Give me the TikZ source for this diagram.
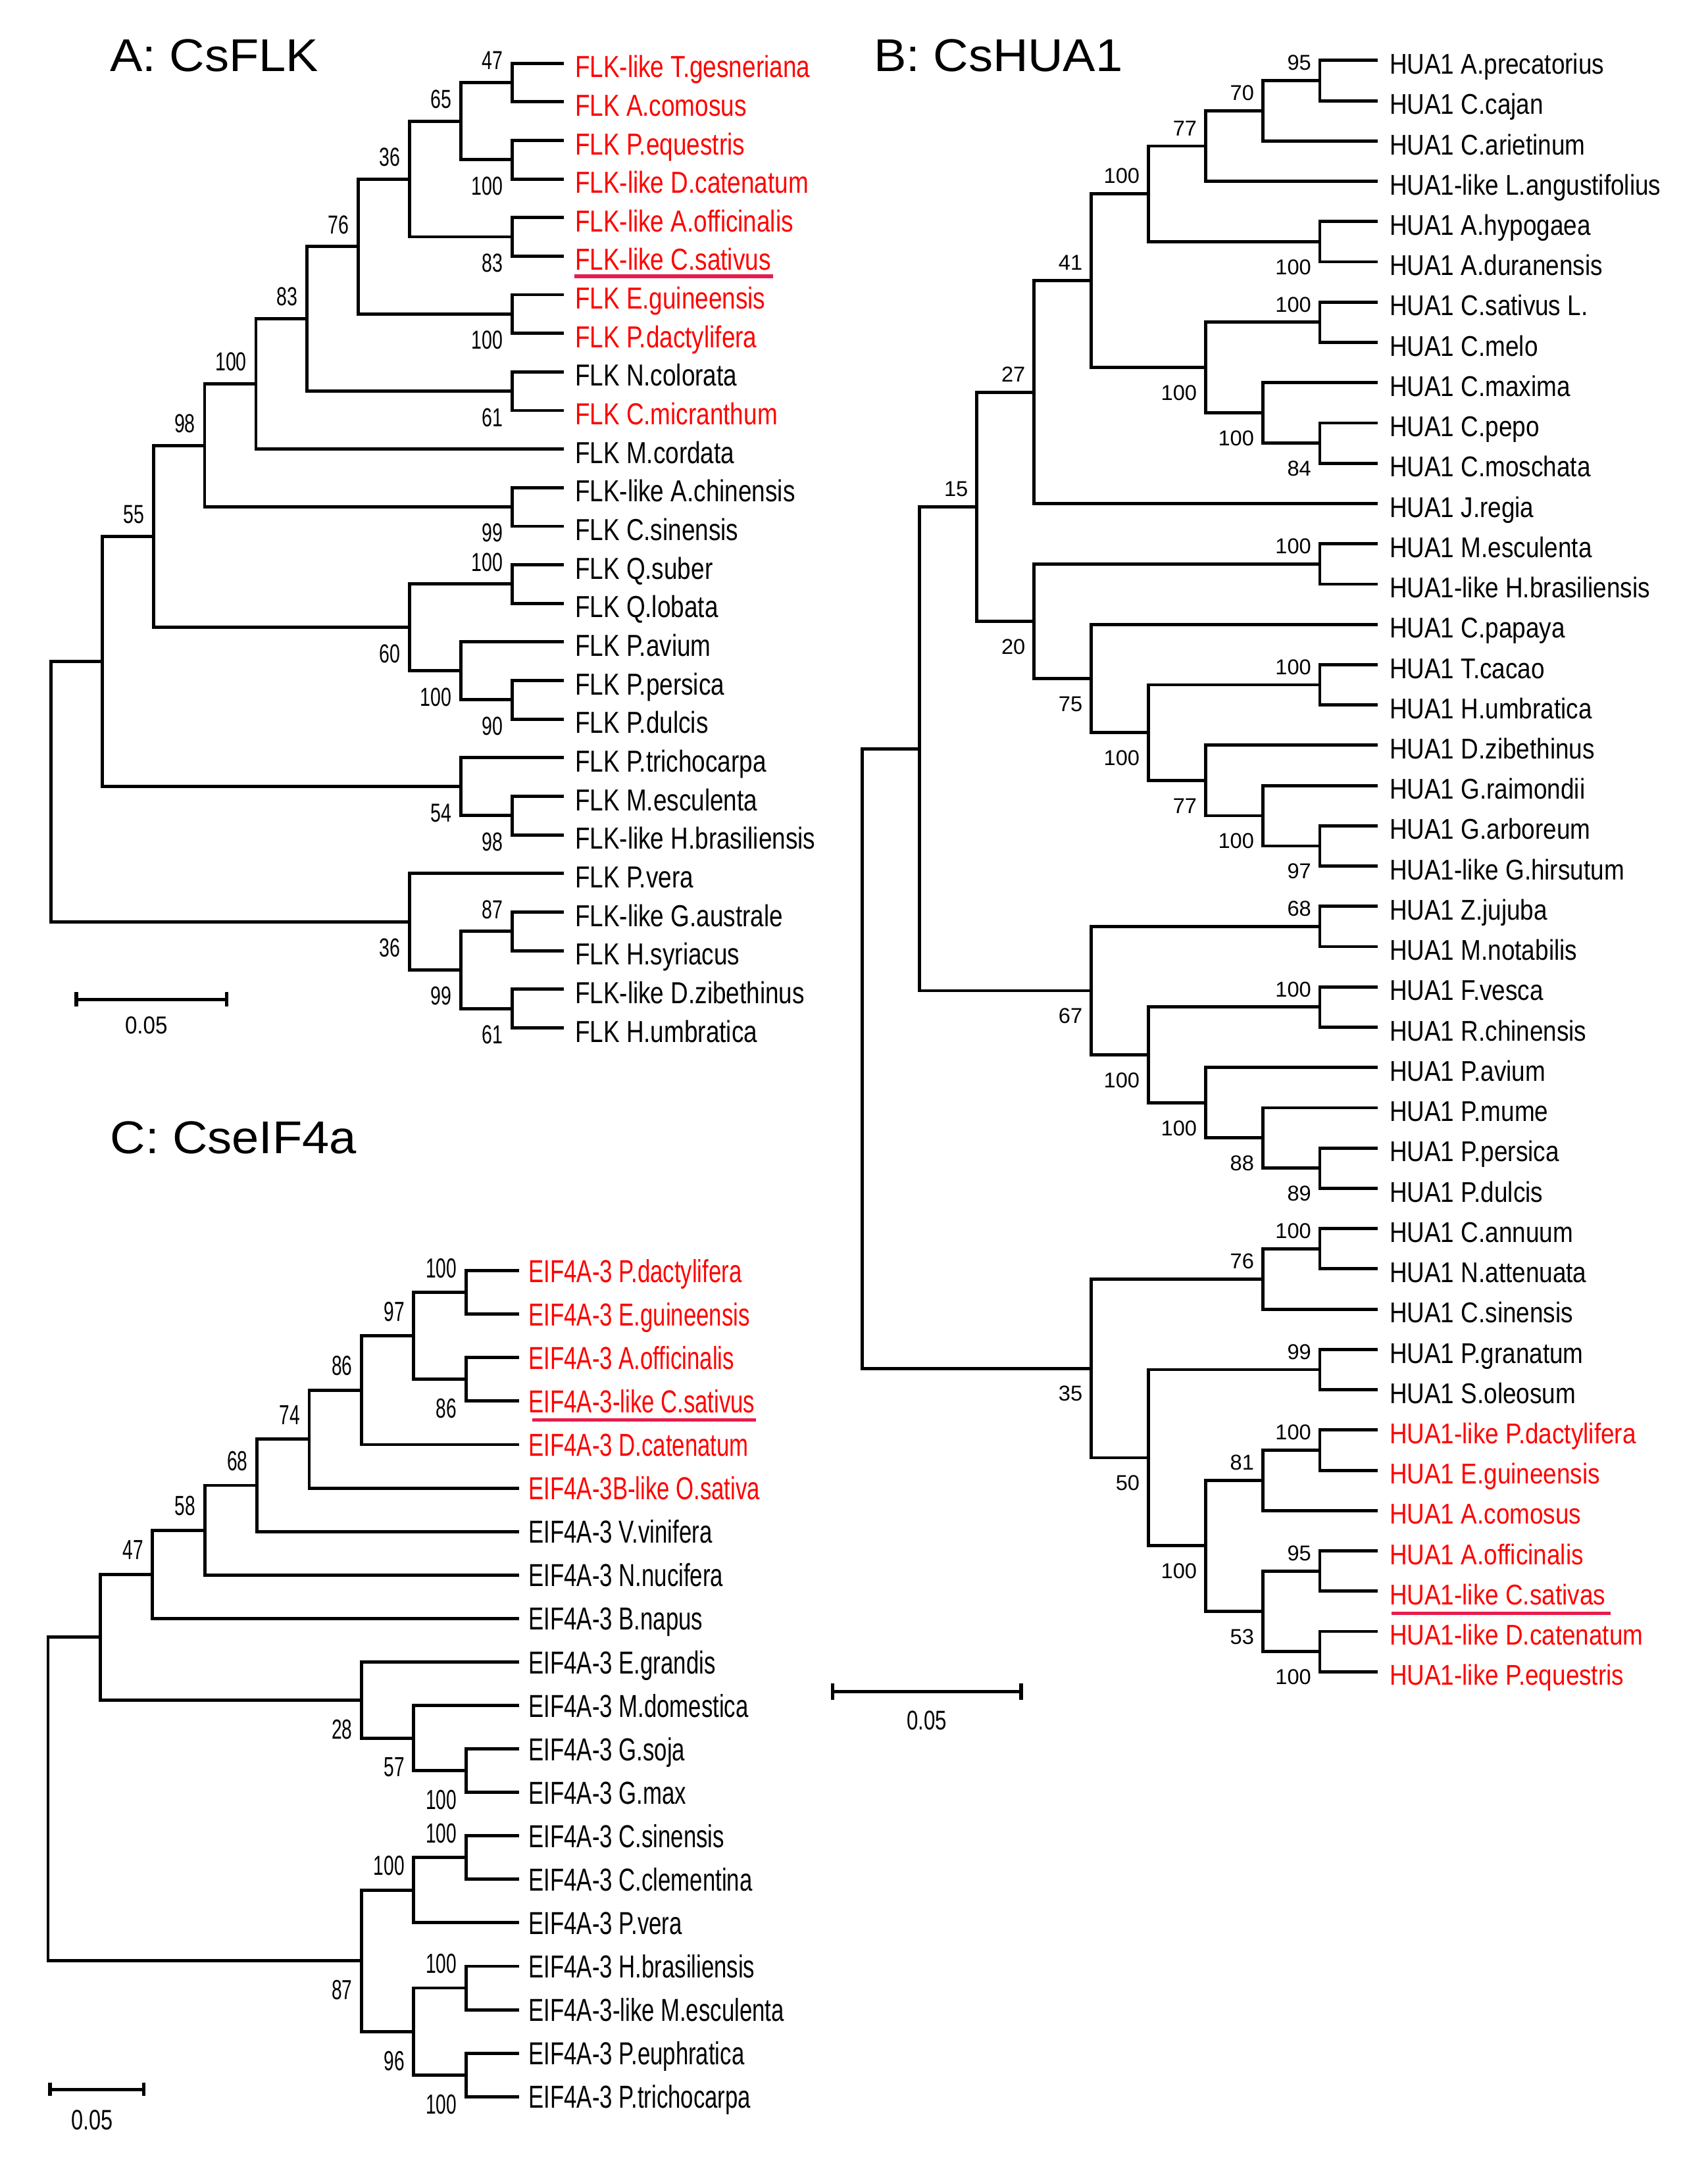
\documentclass[tikz,border=0pt]{standalone}
\usepackage{fontspec}
\setmainfont{Liberation Sans}
\newfontfamily\fsN{Liberation Sans}
\newfontfamily\fsW[FakeStretch=1.06]{Liberation Sans}
\newfontfamily\fsA[FakeStretch=0.80]{Liberation Sans}
\newfontfamily\fsB[FakeStretch=0.85]{Liberation Sans}
\newfontfamily\fsC[FakeStretch=0.72]{Liberation Sans}
\newfontfamily\fsD[FakeStretch=0.67]{Liberation Sans}
\newfontfamily\fsE[FakeStretch=0.89]{Liberation Sans}
\newfontfamily\fsF[FakeStretch=0.76]{Liberation Sans}
\definecolor{lred}{RGB}{255,0,0}
\definecolor{ulred}{RGB}{232,28,76}
\tikzset{
 br/.style={line width=2.3pt, draw=black},
 ulin/.style={line width=2.6pt, draw=ulred},
 ttl/.style={anchor=base west, inner sep=0pt, font=\fsW\fontsize{33}{36}\selectfont},
 lfA/.style={anchor=west, inner sep=0pt, outer xsep=8.2pt, outer ysep=0pt, text height=20.4pt, text depth=0pt, font=\fsA\fontsize{21.8}{24}\selectfont},
 lfB/.style={anchor=west, inner sep=0pt, outer xsep=8.5pt, outer ysep=0pt, text height=19.5pt, text depth=0pt, font=\fsB\fontsize{20.5}{22}\selectfont},
 lfC/.style={anchor=west, inner sep=0pt, outer xsep=7pt, outer ysep=0pt, text height=16.6pt, text depth=0pt, font=\fsC\fontsize{22.8}{25}\selectfont},
 hl/.style={text=lred},
 bsA/.style={anchor=east, inner sep=0pt, text height=13.4pt, text depth=0pt, font=\fsC\fontsize{18.7}{20}\selectfont},
 kTA/.style={bsA, xshift=-6.5pt, yshift=16pt},
 kBA/.style={bsA, xshift=-6.5pt, yshift=-18.5pt},
 bsB/.style={anchor=east, inner sep=0pt, text height=11pt, text depth=0pt, font=\fsN\fontsize{15.4}{17}\selectfont},
 kTB/.style={bsB, xshift=-6pt, yshift=13pt},
 kBB/.style={bsB, xshift=-6pt, yshift=-18pt},
 bsC/.style={anchor=east, inner sep=0pt, text height=14.2pt, text depth=0pt, font=\fsD\fontsize{19.8}{21}\selectfont},
 kTC/.style={bsC, xshift=-6.5pt, yshift=17.8pt},
 kBC/.style={bsC, xshift=-6.5pt, yshift=-20.7pt},
 sbar/.style={line width=2.4pt, draw=black},
}
\begin{document}
\begin{tikzpicture}[x=1pt,y=-1pt]
\path[use as bounding box, fill=white] (0,0) rectangle (1226,1568);

% ================= Panel A =================
\node (tA) [ttl] at (78.7,51.4) {A: CsFLK};
\node (a1) [lfA,hl] at (404.6,45.4) {FLK-like T.gesneriana};
\node (a2) [lfA,hl] at (404.6,73.1) {FLK A.comosus};
\node (a3) [lfA,hl] at (404.6,100.8) {FLK P.equestris};
\node (a4) [lfA,hl] at (404.6,128.5) {FLK-like D.catenatum};
\node (a5) [lfA,hl] at (404.6,156.2) {FLK-like A.officinalis};
\node (a6) [lfA,hl] at (404.6,183.9) {FLK-like C.sativus};
\node (a7) [lfA,hl] at (404.6,211.6) {FLK E.guineensis};
\node (a8) [lfA,hl] at (404.6,239.3) {FLK P.dactylifera};
\node (a9) [lfA] at (404.6,267.0) {FLK N.colorata};
\node (a10) [lfA,hl] at (404.6,294.7) {FLK C.micranthum};
\node (a11) [lfA] at (404.6,322.4) {FLK M.cordata};
\node (a12) [lfA] at (404.6,350.1) {FLK-like A.chinensis};
\node (a13) [lfA] at (404.6,377.8) {FLK C.sinensis};
\node (a14) [lfA] at (404.6,405.5) {FLK Q.suber};
\node (a15) [lfA] at (404.6,433.2) {FLK Q.lobata};
\node (a16) [lfA] at (404.6,460.9) {FLK P.avium};
\node (a17) [lfA] at (404.6,488.6) {FLK P.persica};
\node (a18) [lfA] at (404.6,516.3) {FLK P.dulcis};
\node (a19) [lfA] at (404.6,544.0) {FLK P.trichocarpa};
\node (a20) [lfA] at (404.6,571.7) {FLK M.esculenta};
\node (a21) [lfA] at (404.6,599.4) {FLK-like H.brasiliensis};
\node (a22) [lfA] at (404.6,627.1) {FLK P.vera};
\node (a23) [lfA] at (404.6,654.8) {FLK-like G.australe};
\node (a24) [lfA] at (404.6,682.5) {FLK H.syriacus};
\node (a25) [lfA] at (404.6,710.2) {FLK-like D.zibethinus};
\node (a26) [lfA] at (404.6,737.9) {FLK H.umbratica};
\draw[ulin] ([xshift=7.5pt,yshift=-14.5pt]a6.west) -- ([xshift=-6.5pt,yshift=-14.5pt]a6.east);

\coordinate (nA1) at (367.7,59.25);
\coordinate (nA2) at (367.7,114.65);
\coordinate (nA3) at (330.9,86.95);
\coordinate (nA4) at (367.7,170.05);
\coordinate (nA5) at (294.1,128.5);
\coordinate (nA6) at (367.7,225.45);
\coordinate (nA7) at (257.3,176.98);
\coordinate (nA8) at (367.7,280.85);
\coordinate (nA9) at (220.5,228.9);
\coordinate (nA10) at (183.7,275.65);
\coordinate (nA11) at (367.7,363.95);
\coordinate (nA12) at (146.9,319.8);
\coordinate (nA13) at (367.7,419.35);
\coordinate (nA14) at (367.7,502.45);
\coordinate (nA15) at (330.9,481.68);
\coordinate (nA16) at (294.1,450.5);
\coordinate (nA17) at (110.1,385.15);
\coordinate (nA18) at (367.7,585.55);
\coordinate (nA19) at (330.9,564.78);
\coordinate (nA20) at (73.3,474.96);
\coordinate (nA21) at (367.7,668.65);
\coordinate (nA22) at (367.7,724.05);
\coordinate (nA23) at (330.9,696.35);
\coordinate (nA24) at (294.1,661.73);
\coordinate (nA25) at (36.5,568.35);

\draw[br] (nA1) |- (a1.west); \draw[br] (nA1) |- (a2.west);
\draw[br] (nA2) |- (a3.west); \draw[br] (nA2) |- (a4.west);
\draw[br] (nA3) |- (nA1); \draw[br] (nA3) |- (nA2);
\draw[br] (nA4) |- (a5.west); \draw[br] (nA4) |- (a6.west);
\draw[br] (nA5) |- (nA3); \draw[br] (nA5) |- (nA4);
\draw[br] (nA6) |- (a7.west); \draw[br] (nA6) |- (a8.west);
\draw[br] (nA7) |- (nA5); \draw[br] (nA7) |- (nA6);
\draw[br] (nA8) |- (a9.west); \draw[br] (nA8) |- (a10.west);
\draw[br] (nA9) |- (nA7); \draw[br] (nA9) |- (nA8);
\draw[br] (nA10) |- (nA9); \draw[br] (nA10) |- (a11.west);
\draw[br] (nA11) |- (a12.west); \draw[br] (nA11) |- (a13.west);
\draw[br] (nA12) |- (nA10); \draw[br] (nA12) |- (nA11);
\draw[br] (nA13) |- (a14.west); \draw[br] (nA13) |- (a15.west);
\draw[br] (nA14) |- (a17.west); \draw[br] (nA14) |- (a18.west);
\draw[br] (nA15) |- (a16.west); \draw[br] (nA15) |- (nA14);
\draw[br] (nA16) |- (nA13); \draw[br] (nA16) |- (nA15);
\draw[br] (nA17) |- (nA12); \draw[br] (nA17) |- (nA16);
\draw[br] (nA18) |- (a20.west); \draw[br] (nA18) |- (a21.west);
\draw[br] (nA19) |- (a19.west); \draw[br] (nA19) |- (nA18);
\draw[br] (nA20) |- (nA17); \draw[br] (nA20) |- (nA19);
\draw[br] (nA21) |- (a23.west); \draw[br] (nA21) |- (a24.west);
\draw[br] (nA22) |- (a25.west); \draw[br] (nA22) |- (a26.west);
\draw[br] (nA23) |- (nA21); \draw[br] (nA23) |- (nA22);
\draw[br] (nA24) |- (a22.west); \draw[br] (nA24) |- (nA23);
\draw[br] (nA25) |- (nA20); \draw[br] (nA25) |- (nA24);

\node (kA1) [kTA] at (nA1) {47};
\node (kA2) [kBA] at (nA2) {100};
\node (kA3) [kTA] at (nA3) {65};
\node (kA4) [kBA] at (nA4) {83};
\node (kA5) [kTA] at (nA5) {36};
\node (kA6) [kBA] at (nA6) {100};
\node (kA7) [kTA] at (nA7) {76};
\node (kA8) [kBA] at (nA8) {61};
\node (kA9) [kTA] at (nA9) {83};
\node (kA10) [kTA] at (nA10) {100};
\node (kA11) [kBA] at (nA11) {99};
\node (kA12) [kTA] at (nA12) {98};
\node (kA13) [kTA] at (nA13) {100};
\node (kA14) [kBA] at (nA14) {90};
\node (kA15) [kBA] at (nA15) {100};
\node (kA16) [kBA] at (nA16) {60};
\node (kA17) [kTA] at (nA17) {55};
\node (kA18) [kBA] at (nA18) {98};
\node (kA19) [kBA] at (nA19) {54};
\node (kA21) [kTA] at (nA21) {87};
\node (kA22) [kBA] at (nA22) {61};
\node (kA23) [kBA] at (nA23) {99};
\node (kA24) [kBA] at (nA24) {36};

\coordinate (sA1) at (54.8,717.5);
\coordinate (sA2) at (162.9,717.5);
\draw[sbar] (sA1) -- (sA2);
\draw[sbar] ([yshift=5.3pt]sA1) -- ([yshift=-5.3pt]sA1);
\draw[sbar] ([yshift=5.3pt]sA2) -- ([yshift=-5.3pt]sA2);
\node (sAl) [inner sep=0pt, text height=12.6pt, text depth=0pt, font=\fsE\fontsize{17.6}{19}\selectfont] at (105,735.9) {0.05};

% ================= Panel B =================
\node (tB) [ttl] at (627,51.4) {B: CsHUA1};
\node (b1l) [lfB] at (989,43.40) {HUA1 A.precatorius};
\node (b2l) [lfB] at (989,72.32) {HUA1 C.cajan};
\node (b3l) [lfB] at (989,101.24) {HUA1 C.arietinum};
\node (b4l) [lfB] at (989,130.16) {HUA1-like L.angustifolius};
\node (b5l) [lfB] at (989,159.08) {HUA1 A.hypogaea};
\node (b6l) [lfB] at (989,188.00) {HUA1 A.duranensis};
\node (b7l) [lfB] at (989,216.92) {HUA1 C.sativus L.};
\node (b8l) [lfB] at (989,245.84) {HUA1 C.melo};
\node (b9l) [lfB] at (989,274.76) {HUA1 C.maxima};
\node (b10l) [lfB] at (989,303.68) {HUA1 C.pepo};
\node (b11l) [lfB] at (989,332.60) {HUA1 C.moschata};
\node (b12l) [lfB] at (989,361.52) {HUA1 J.regia};
\node (b13l) [lfB] at (989,390.44) {HUA1 M.esculenta};
\node (b14l) [lfB] at (989,419.36) {HUA1-like H.brasiliensis};
\node (b15l) [lfB] at (989,448.28) {HUA1 C.papaya};
\node (b16l) [lfB] at (989,477.20) {HUA1 T.cacao};
\node (b17l) [lfB] at (989,506.12) {HUA1 H.umbratica};
\node (b18l) [lfB] at (989,535.04) {HUA1 D.zibethinus};
\node (b19l) [lfB] at (989,563.96) {HUA1 G.raimondii};
\node (b20l) [lfB] at (989,592.88) {HUA1 G.arboreum};
\node (b21l) [lfB] at (989,621.80) {HUA1-like G.hirsutum};
\node (b22l) [lfB] at (989,650.72) {HUA1 Z.jujuba};
\node (b23l) [lfB] at (989,679.64) {HUA1 M.notabilis};
\node (b24l) [lfB] at (989,708.56) {HUA1 F.vesca};
\node (b25l) [lfB] at (989,737.48) {HUA1 R.chinensis};
\node (b26l) [lfB] at (989,766.40) {HUA1 P.avium};
\node (b27l) [lfB] at (989,795.32) {HUA1 P.mume};
\node (b28l) [lfB] at (989,824.24) {HUA1 P.persica};
\node (b29l) [lfB] at (989,853.16) {HUA1 P.dulcis};
\node (b30l) [lfB] at (989,882.08) {HUA1 C.annuum};
\node (b31l) [lfB] at (989,911.00) {HUA1 N.attenuata};
\node (b32l) [lfB] at (989,939.92) {HUA1 C.sinensis};
\node (b33l) [lfB] at (989,968.84) {HUA1 P.granatum};
\node (b34l) [lfB] at (989,997.76) {HUA1 S.oleosum};
\node (b35l) [lfB,hl] at (989,1026.68) {HUA1-like P.dactylifera};
\node (b36l) [lfB,hl] at (989,1055.60) {HUA1 E.guineensis};
\node (b37l) [lfB,hl] at (989,1084.52) {HUA1 A.comosus};
\node (b38l) [lfB,hl] at (989,1113.44) {HUA1 A.officinalis};
\node (b39l) [lfB,hl] at (989,1142.36) {HUA1-like C.sativas};
\node (b40l) [lfB,hl] at (989,1171.28) {HUA1-like D.catenatum};
\node (b41l) [lfB,hl] at (989,1200.20) {HUA1-like P.equestris};
\draw[ulin] ([xshift=10pt,yshift=-16pt]b39l.west) -- ([xshift=-5pt,yshift=-16pt]b39l.east);

\coordinate (nB1) at (947.4,57.86);
\coordinate (nB2) at (906.35,79.55);
\coordinate (nB3) at (865.3,104.86);
\coordinate (nB4) at (947.4,173.54);
\coordinate (nB5) at (824.25,139.20);
\coordinate (nB6) at (947.4,231.38);
\coordinate (nB7) at (947.4,318.14);
\coordinate (nB8) at (906.35,296.45);
\coordinate (nB9) at (865.3,263.92);
\coordinate (nB10) at (783.2,201.56);
\coordinate (nB11) at (742.15,281.54);
\coordinate (nB12) at (947.4,404.90);
\coordinate (nB13) at (947.4,491.66);
\coordinate (nB14) at (947.4,607.34);
\coordinate (nB15) at (906.35,585.65);
\coordinate (nB16) at (865.3,560.35);
\coordinate (nB17) at (824.25,526.01);
\coordinate (nB18) at (783.2,487.15);
\coordinate (nB19) at (742.15,446.03);
\coordinate (nB20) at (701.1,363.79);
\coordinate (nB21) at (947.4,665.18);
\coordinate (nB22) at (947.4,723.02);
\coordinate (nB23) at (947.4,838.70);
\coordinate (nB24) at (906.35,817.01);
\coordinate (nB25) at (865.3,791.71);
\coordinate (nB26) at (824.25,757.37);
\coordinate (nB27) at (783.2,711.28);
\coordinate (nB28) at (660.05,537.54);
\coordinate (nB29) at (947.4,896.54);
\coordinate (nB30) at (906.35,918.23);
\coordinate (nB31) at (947.4,983.30);
\coordinate (nB32) at (947.4,1041.14);
\coordinate (nB33) at (906.35,1062.83);
\coordinate (nB34) at (947.4,1127.90);
\coordinate (nB35) at (947.4,1185.74);
\coordinate (nB36) at (906.35,1156.82);
\coordinate (nB37) at (865.3,1109.83);
\coordinate (nB38) at (824.25,1046.57);
\coordinate (nB39) at (783.2,982.40);
\coordinate (nB40) at (619,759.97);

\draw[br] (nB1) |- (b1l.west); \draw[br] (nB1) |- (b2l.west);
\draw[br] (nB2) |- (nB1); \draw[br] (nB2) |- (b3l.west);
\draw[br] (nB3) |- (nB2); \draw[br] (nB3) |- (b4l.west);
\draw[br] (nB4) |- (b5l.west); \draw[br] (nB4) |- (b6l.west);
\draw[br] (nB5) |- (nB3); \draw[br] (nB5) |- (nB4);
\draw[br] (nB6) |- (b7l.west); \draw[br] (nB6) |- (b8l.west);
\draw[br] (nB7) |- (b10l.west); \draw[br] (nB7) |- (b11l.west);
\draw[br] (nB8) |- (b9l.west); \draw[br] (nB8) |- (nB7);
\draw[br] (nB9) |- (nB6); \draw[br] (nB9) |- (nB8);
\draw[br] (nB10) |- (nB5); \draw[br] (nB10) |- (nB9);
\draw[br] (nB11) |- (nB10); \draw[br] (nB11) |- (b12l.west);
\draw[br] (nB12) |- (b13l.west); \draw[br] (nB12) |- (b14l.west);
\draw[br] (nB13) |- (b16l.west); \draw[br] (nB13) |- (b17l.west);
\draw[br] (nB14) |- (b20l.west); \draw[br] (nB14) |- (b21l.west);
\draw[br] (nB15) |- (b19l.west); \draw[br] (nB15) |- (nB14);
\draw[br] (nB16) |- (b18l.west); \draw[br] (nB16) |- (nB15);
\draw[br] (nB17) |- (nB13); \draw[br] (nB17) |- (nB16);
\draw[br] (nB18) |- (b15l.west); \draw[br] (nB18) |- (nB17);
\draw[br] (nB19) |- (nB12); \draw[br] (nB19) |- (nB18);
\draw[br] (nB20) |- (nB11); \draw[br] (nB20) |- (nB19);
\draw[br] (nB21) |- (b22l.west); \draw[br] (nB21) |- (b23l.west);
\draw[br] (nB22) |- (b24l.west); \draw[br] (nB22) |- (b25l.west);
\draw[br] (nB23) |- (b28l.west); \draw[br] (nB23) |- (b29l.west);
\draw[br] (nB24) |- (b27l.west); \draw[br] (nB24) |- (nB23);
\draw[br] (nB25) |- (b26l.west); \draw[br] (nB25) |- (nB24);
\draw[br] (nB26) |- (nB22); \draw[br] (nB26) |- (nB25);
\draw[br] (nB27) |- (nB21); \draw[br] (nB27) |- (nB26);
\draw[br] (nB28) |- (nB20); \draw[br] (nB28) |- (nB27);
\draw[br] (nB29) |- (b30l.west); \draw[br] (nB29) |- (b31l.west);
\draw[br] (nB30) |- (nB29); \draw[br] (nB30) |- (b32l.west);
\draw[br] (nB31) |- (b33l.west); \draw[br] (nB31) |- (b34l.west);
\draw[br] (nB32) |- (b35l.west); \draw[br] (nB32) |- (b36l.west);
\draw[br] (nB33) |- (nB32); \draw[br] (nB33) |- (b37l.west);
\draw[br] (nB34) |- (b38l.west); \draw[br] (nB34) |- (b39l.west);
\draw[br] (nB35) |- (b40l.west); \draw[br] (nB35) |- (b41l.west);
\draw[br] (nB36) |- (nB34); \draw[br] (nB36) |- (nB35);
\draw[br] (nB37) |- (nB33); \draw[br] (nB37) |- (nB36);
\draw[br] (nB38) |- (nB31); \draw[br] (nB38) |- (nB37);
\draw[br] (nB39) |- (nB30); \draw[br] (nB39) |- (nB38);
\draw[br] (nB40) |- (nB28); \draw[br] (nB40) |- (nB39);

\node (kB1) [kTB] at (nB1) {95};
\node (kB2) [kTB] at (nB2) {70};
\node (kB3) [kTB] at (nB3) {77};
\node (kB4) [kBB] at (nB4) {100};
\node (kB5) [kTB] at (nB5) {100};
\node (kB6) [kTB] at (nB6) {100};
\node (kB7) [kBB] at (nB7) {84};
\node (kB8) [kBB] at (nB8) {100};
\node (kB9) [kBB] at (nB9) {100};
\node (kB10) [kTB] at (nB10) {41};
\node (kB11) [kTB] at (nB11) {27};
\node (kB12) [kTB] at (nB12) {100};
\node (kB13) [kTB] at (nB13) {100};
\node (kB14) [kBB] at (nB14) {97};
\node (kB15) [kBB] at (nB15) {100};
\node (kB16) [kBB] at (nB16) {77};
\node (kB17) [kBB] at (nB17) {100};
\node (kB18) [kBB] at (nB18) {75};
\node (kB19) [kBB] at (nB19) {20};
\node (kB20) [kTB] at (nB20) {15};
\node (kB21) [kTB] at (nB21) {68};
\node (kB22) [kTB] at (nB22) {100};
\node (kB23) [kBB] at (nB23) {89};
\node (kB24) [kBB] at (nB24) {88};
\node (kB25) [kBB] at (nB25) {100};
\node (kB26) [kBB] at (nB26) {100};
\node (kB27) [kBB] at (nB27) {67};
\node (kB29) [kTB] at (nB29) {100};
\node (kB30) [kTB] at (nB30) {76};
\node (kB31) [kTB] at (nB31) {99};
\node (kB32) [kTB] at (nB32) {100};
\node (kB33) [kTB] at (nB33) {81};
\node (kB34) [kTB] at (nB34) {95};
\node (kB35) [kBB] at (nB35) {100};
\node (kB36) [kBB] at (nB36) {53};
\node (kB37) [kBB] at (nB37) {100};
\node (kB38) [kBB] at (nB38) {50};
\node (kB39) [kBB] at (nB39) {35};

\coordinate (sB1) at (597.6,1214.5);
\coordinate (sB2) at (733,1214.5);
\draw[sbar] (sB1) -- (sB2);
\draw[sbar] ([yshift=5.9pt]sB1) -- ([yshift=-5.9pt]sB1);
\draw[sbar] ([yshift=5.9pt]sB2) -- ([yshift=-5.9pt]sB2);
\node (sBl) [inner sep=0pt, text height=13.9pt, text depth=0pt, font=\fsF\fontsize{19.4}{21}\selectfont] at (665.2,1235.1) {0.05};

% ================= Panel C =================
\node (tC) [ttl] at (79,828) {C: CseIF4a};
\node (c1l) [lfC,hl] at (372.5,912.30) {EIF4A-3 P.dactylifera};
\node (c2l) [lfC,hl] at (372.5,943.51) {EIF4A-3 E.guineensis};
\node (c3l) [lfC,hl] at (372.5,974.72) {EIF4A-3 A.officinalis};
\node (c4l) [lfC,hl] at (372.5,1005.93) {EIF4A-3-like C.sativus};
\node (c5l) [lfC,hl] at (372.5,1037.14) {EIF4A-3 D.catenatum};
\node (c6l) [lfC,hl] at (372.5,1068.35) {EIF4A-3B-like O.sativa};
\node (c7l) [lfC] at (372.5,1099.56) {EIF4A-3 V.vinifera};
\node (c8l) [lfC] at (372.5,1130.77) {EIF4A-3 N.nucifera};
\node (c9l) [lfC] at (372.5,1161.98) {EIF4A-3 B.napus};
\node (c10l) [lfC] at (372.5,1193.19) {EIF4A-3 E.grandis};
\node (c11l) [lfC] at (372.5,1224.40) {EIF4A-3 M.domestica};
\node (c12l) [lfC] at (372.5,1255.61) {EIF4A-3 G.soja};
\node (c13l) [lfC] at (372.5,1286.82) {EIF4A-3 G.max};
\node (c14l) [lfC] at (372.5,1318.03) {EIF4A-3 C.sinensis};
\node (c15l) [lfC] at (372.5,1349.24) {EIF4A-3 C.clementina};
\node (c16l) [lfC] at (372.5,1380.45) {EIF4A-3 P.vera};
\node (c17l) [lfC] at (372.5,1411.66) {EIF4A-3 H.brasiliensis};
\node (c18l) [lfC] at (372.5,1442.87) {EIF4A-3-like M.esculenta};
\node (c19l) [lfC] at (372.5,1474.08) {EIF4A-3 P.euphratica};
\node (c20l) [lfC] at (372.5,1505.29) {EIF4A-3 P.trichocarpa};
\draw[ulin] ([xshift=9.7pt,yshift=-13.5pt]c4l.west) -- ([xshift=-6pt,yshift=-13.5pt]c4l.east);

\coordinate (nC1) at (334.5,927.91);
\coordinate (nC2) at (334.5,990.33);
\coordinate (nC3) at (297,959.12);
\coordinate (nC4) at (259.5,998.13);
\coordinate (nC5) at (222,1033.24);
\coordinate (nC6) at (184.5,1066.40);
\coordinate (nC7) at (147,1098.59);
\coordinate (nC8) at (109.5,1130.29);
\coordinate (nC9) at (334.5,1271.22);
\coordinate (nC10) at (297,1247.81);
\coordinate (nC11) at (259.5,1220.50);
\coordinate (nC12) at (72,1175.40);
\coordinate (nC13) at (334.5,1333.64);
\coordinate (nC14) at (297,1357.05);
\coordinate (nC15) at (334.5,1427.27);
\coordinate (nC16) at (334.5,1489.69);
\coordinate (nC17) at (297,1458.48);
\coordinate (nC18) at (259.5,1407.77);
\coordinate (nC19) at (34.5,1291.59);

\draw[br] (nC1) |- (c1l.west); \draw[br] (nC1) |- (c2l.west);
\draw[br] (nC2) |- (c3l.west); \draw[br] (nC2) |- (c4l.west);
\draw[br] (nC3) |- (nC1); \draw[br] (nC3) |- (nC2);
\draw[br] (nC4) |- (nC3); \draw[br] (nC4) |- (c5l.west);
\draw[br] (nC5) |- (nC4); \draw[br] (nC5) |- (c6l.west);
\draw[br] (nC6) |- (nC5); \draw[br] (nC6) |- (c7l.west);
\draw[br] (nC7) |- (nC6); \draw[br] (nC7) |- (c8l.west);
\draw[br] (nC8) |- (nC7); \draw[br] (nC8) |- (c9l.west);
\draw[br] (nC9) |- (c12l.west); \draw[br] (nC9) |- (c13l.west);
\draw[br] (nC10) |- (c11l.west); \draw[br] (nC10) |- (nC9);
\draw[br] (nC11) |- (c10l.west); \draw[br] (nC11) |- (nC10);
\draw[br] (nC12) |- (nC8); \draw[br] (nC12) |- (nC11);
\draw[br] (nC13) |- (c14l.west); \draw[br] (nC13) |- (c15l.west);
\draw[br] (nC14) |- (nC13); \draw[br] (nC14) |- (c16l.west);
\draw[br] (nC15) |- (c17l.west); \draw[br] (nC15) |- (c18l.west);
\draw[br] (nC16) |- (c19l.west); \draw[br] (nC16) |- (c20l.west);
\draw[br] (nC17) |- (nC15); \draw[br] (nC17) |- (nC16);
\draw[br] (nC18) |- (nC14); \draw[br] (nC18) |- (nC17);
\draw[br] (nC19) |- (nC12); \draw[br] (nC19) |- (nC18);

\node (kC1) [kTC] at (nC1) {100};
\node (kC2) [kBC] at (nC2) {86};
\node (kC3) [kTC] at (nC3) {97};
\node (kC4) [kTC] at (nC4) {86};
\node (kC5) [kTC] at (nC5) {74};
\node (kC6) [kTC] at (nC6) {68};
\node (kC7) [kTC] at (nC7) {58};
\node (kC8) [kTC] at (nC8) {47};
\node (kC9) [kBC] at (nC9) {100};
\node (kC10) [kBC] at (nC10) {57};
\node (kC11) [kBC] at (nC11) {28};
\node (kC13) [kTC] at (nC13) {100};
\node (kC14) [kTC] at (nC14) {100};
\node (kC15) [kTC] at (nC15) {100};
\node (kC16) [kBC] at (nC16) {100};
\node (kC17) [kBC] at (nC17) {96};
\node (kC18) [kBC] at (nC18) {87};

\coordinate (sC1) at (35.9,1500);
\coordinate (sC2) at (103.3,1500);
\draw[sbar] (sC1) -- (sC2);
\draw[sbar] ([yshift=4.7pt]sC1) -- ([yshift=-4.7pt]sC1);
\draw[sbar] ([yshift=4.7pt]sC2) -- ([yshift=-4.7pt]sC2);
\node (sCl) [inner sep=0pt, text height=14.5pt, text depth=0pt, font=\fsF\fontsize{20.2}{22}\selectfont] at (66.2,1522) {0.05};
\end{tikzpicture}
\end{document}
